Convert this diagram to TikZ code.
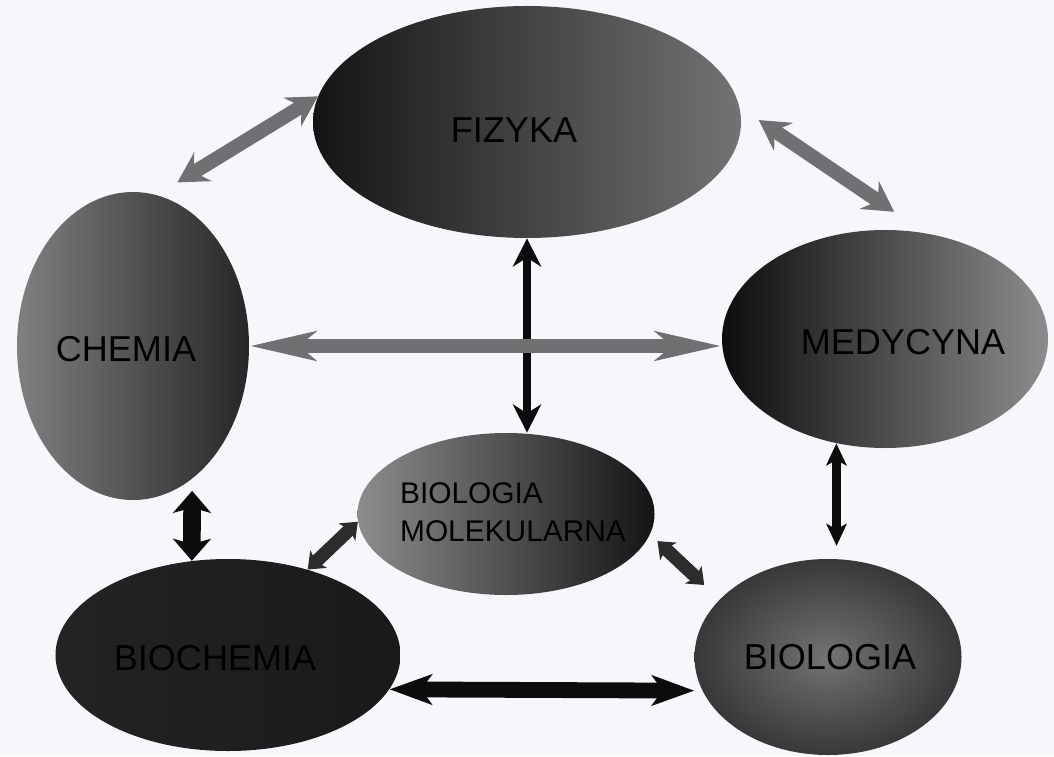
\documentclass[tikz,border=0pt]{standalone}
\usepackage{fontspec}
\setmainfont{Liberation Sans}
\usetikzlibrary{shapes.geometric,arrows.meta}
\definecolor{paper}{RGB}{247,246,251}
\definecolor{linkgrey}{RGB}{112,112,114}
\definecolor{linkdark}{RGB}{44,44,44}
\definecolor{linkblack}{RGB}{12,12,12}
\tikzset{
  blob/.style={ellipse, inner sep=0pt, draw=none},
  tag/.style={font=\fontsize{20.5}{24}\selectfont, text=black},
  smalltag/.style={font=\fontsize{17}{21.6}\selectfont, text=black, align=left},
  link/.style n args={5}{draw=#1, line width=#2,
    {Stealth[length=#3, width=#4, inset=#5]}-{Stealth[length=#3, width=#4, inset=#5]}},
}
\begin{document}
\begin{tikzpicture}[x=0.2mm, y=-0.2mm]
	% backdrop
	\fill[paper] (0,0) rectangle (1054,756);

	% subjects
	\node[blob, minimum width=85.6mm, minimum height=46.4mm,
	      left color=black!92, right color=black!55,
	      label={[tag, xshift=-2.6mm, yshift=-1.6mm]center:FIZYKA}] (fiz) at (527,122) {};
	\node[blob, minimum width=46.4mm, minimum height=61.6mm,
	      left color=black!50, right color=black!85,
	      label={[tag, xshift=-1.4mm, yshift=-0.6mm]center:CHEMIA}] (chem) at (133,346) {};
	\node[blob, minimum width=65.2mm, minimum height=43.6mm,
	      left color=black!95, right color=black!45,
	      label={[tag, xshift=3.6mm, yshift=-0.6mm]center:MEDYCYNA}] (med) at (885,339) {};
	\node[blob, minimum width=59.4mm, minimum height=32.4mm,
	      left color=black!45, right color=black!92,
	      label={[smalltag, xshift=1.4mm, yshift=0.4mm]center:BIOLOGIA\\MOLEKULARNA}] (bm) at (506,514) {};
	\node[blob, minimum width=69mm, minimum height=38.4mm,
	      left color=black!86, right color=black!90,
	      label={[tag, xshift=-2.6mm, yshift=-0.6mm]center:BIOCHEMIA}] (bioch) at (228,655) {};
	\node[blob, minimum width=53.4mm, minimum height=39.2mm,
	      inner color=black!55, outer color=black!78,
	      label={[tag, xshift=0.4mm]center:BIOLOGIA}] (biol) at (828,657) {};

	% links
	\draw[link={linkgrey}{8pt}{17pt}{19pt}{6pt}, shorten >=4.8mm] (fiz.173) -- (chem.81);
	\draw[link={linkgrey}{8pt}{17pt}{19pt}{6pt}, shorten <=4.6mm, shorten >=7.6mm] (fiz.4) -- (med.69.5);
	\draw[link={linkblack}{4.5pt}{16pt}{16pt}{5pt}] (fiz.south) -- (fiz.south |- bm.north);
	\draw[link={linkgrey}{7.5pt}{37pt}{16pt}{9pt}] (chem.east) -- (chem.east -| med.west);
	\draw[link={linkblack}{10pt}{12.5pt}{21.5pt}{3pt}, shorten <=2.4mm] (chem.294) -- (bioch.111);
	\draw[link={linkdark}{7.5pt}{8.5pt}{13.5pt}{2pt}] (bm.183) -- (bioch.47);
	\draw[link={linkdark}{7.5pt}{8.5pt}{13.5pt}{2pt}, shorten <=2mm, shorten >=4.2mm] (bm.352) -- (biol.152);
	\draw[link={linkblack}{5pt}{12.5pt}{11.5pt}{3pt}, shorten >=2.6mm] (med.245) -- (biol.85);
	\draw[link={linkblack}{9pt}{24pt}{17pt}{6pt}, shorten >=1.6mm] (bioch.348) -- (biol.195);
\end{tikzpicture}
\end{document}
